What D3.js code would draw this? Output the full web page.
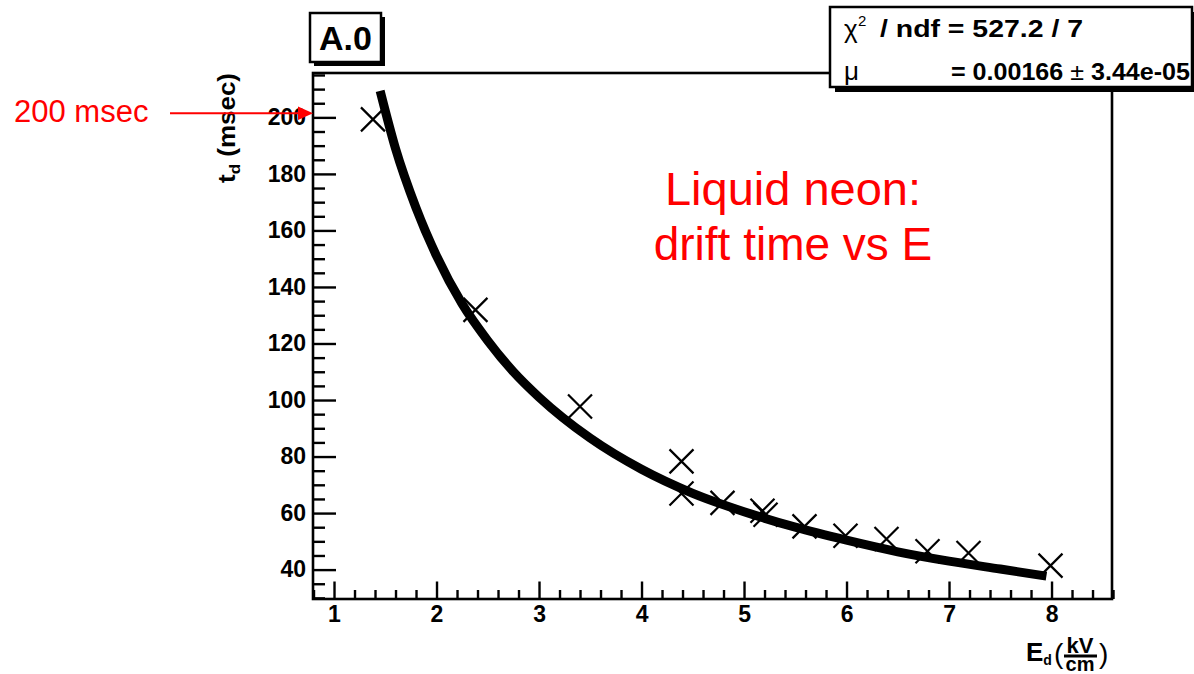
<!DOCTYPE html>
<html>
<head>
<meta charset="utf-8">
<script src="https://cdn.jsdelivr.net/npm/d3@7"></script>
<style>
  html, body { margin: 0; padding: 0; background: #fff; }
  svg { display: block; font-family: 'Liberation Sans', Arial, sans-serif; }
</style>
</head>
<body>
<div id="chart"></div>
<script>
'use strict';

// measured points (E in kV/cm, drift time in msec)
var fieldE = [1.38, 2.38, 3.40, 4.39, 4.39, 4.79, 5.18, 5.21, 5.59, 5.99, 6.39, 6.79, 7.19, 7.99];
var driftT = [199.3, 131.9, 97.7, 78.3, 66.9, 63.6, 60.8, 59.4, 55.3, 52.0, 50.8, 46.5, 45.9, 41.4];

// fit curve
var fitE = [1.45, 1.6, 1.8, 2.0, 2.25, 2.5, 2.75, 3.0, 3.5, 4.0, 4.5, 5.0, 5.5, 6.0, 6.5, 7.0, 7.5, 7.95];
var fitT = [209.4, 189, 168, 151, 134, 121, 110, 101, 86.5, 75.5, 67, 60.5, 55, 50.4, 46.3, 43, 40.2, 37.7];

var xMajor = [1, 2, 3, 4, 5, 6, 7, 8];
var yMajor = [40, 60, 80, 100, 120, 140, 160, 180, 200];

var W = 1194, H = 674;
var frame = {left: 313, right: 1112, top: 73, bottom: 599};

var svg = d3.select('#chart').append('svg')
    .attr('width', W)
    .attr('height', H);

var x = d3.scaleLinear().domain([0.795, 8.59]).range([frame.left, frame.right]);
var y = d3.scaleLinear().domain([29.6, 215.7]).range([frame.bottom, frame.top]);

// minor ticks, skipping the majors
var xMinor = d3.range(0.8, 8.61, 0.2).filter(function(v){
  return Math.abs(v - Math.round(v)) > 0.01;
});
var yMinor = d3.range(30, 216, 5).filter(function(v){ return v % 20 !== 0; });

// frame
svg.append('rect')
    .attr('x', frame.left)
    .attr('y', frame.top)
    .attr('width', frame.right - frame.left)
    .attr('height', frame.bottom - frame.top)
    .attr('fill', 'none')
    .attr('stroke', '#000')
    .attr('stroke-width', 2.6);

function styleAxis(g) {
  g.select('.domain').remove();
  g.selectAll('line').attr('stroke', '#000').attr('stroke-width', 2.4);
  g.selectAll('text')
      .attr('fill', '#000')
      .style('font-family', "'Liberation Sans', Arial, sans-serif")
      .style('font-weight', 'bold')
      .style('font-size', '23px');
}

svg.append('g')
    .attr('transform', 'translate(' + frame.left + ',0)')
    .call(d3.axisLeft(y).tickValues(yMinor).tickSize(-12).tickFormat(''))
    .call(styleAxis);
svg.append('g')
    .attr('transform', 'translate(' + frame.left + ',0)')
    .call(d3.axisLeft(y).tickValues(yMajor).tickSize(-23).tickPadding(7).tickFormat(d3.format('d')))
    .call(styleAxis);

svg.append('g')
    .attr('transform', 'translate(0,' + frame.bottom + ')')
    .call(d3.axisBottom(x).tickValues(xMinor).tickSize(-9).tickFormat(''))
    .call(styleAxis);
svg.append('g')
    .attr('transform', 'translate(0,' + frame.bottom + ')')
    .call(d3.axisBottom(x).tickValues(xMajor).tickSize(-17.5).tickPadding(7).tickFormat(d3.format('d')))
    .call(styleAxis);

// fit curve
var fitData = fitE.map(function(e, i){ return [e, fitT[i]]; });
svg.append('path')
    .datum(fitData)
    .attr('fill', 'none')
    .attr('stroke', '#000')
    .attr('stroke-width', 9)
    .attr('stroke-linecap', 'butt')
    .attr('d', d3.line()
        .x(function(d){ return x(d[0]); })
        .y(function(d){ return y(d[1]); })
        .curve(d3.curveMonotoneX));

// data points as crosses
var pts = fieldE.map(function(e, i){ return {e: e, t: driftT[i]}; });
var s = 12;
svg.append('g').selectAll('path')
    .data(pts)
  .enter().append('path')
    .attr('transform', function(d){ return 'translate(' + x(d.e) + ',' + y(d.t) + ')'; })
    .attr('d', 'M' + (-s) + ',' + (-s) + 'L' + s + ',' + s + 'M' + (-s) + ',' + s + 'L' + s + ',' + (-s))
    .attr('fill', 'none')
    .attr('stroke', '#000')
    .attr('stroke-width', 2.2);

// y axis title
var yt = svg.append('text')
    .attr('transform', 'translate(235,' + frame.top + ') rotate(-90)')
    .attr('text-anchor', 'end')
    .attr('textLength', 110)
    .attr('lengthAdjust', 'spacingAndGlyphs')
    .style('font-weight', 'bold')
    .style('font-size', '23px')
    .attr('fill', '#000');
yt.append('tspan').text('t');
yt.append('tspan').attr('dy', 5).style('font-size', '15px').text('d');
yt.append('tspan').attr('dy', -5).text(' (msec)');

// x axis title: E_d (kV/cm)
var xt = svg.append('g').attr('fill', '#000');
var et = xt.append('text').attr('x', 1026).attr('y', 661)
    .style('font-weight', 'bold').style('font-size', '26px');
et.append('tspan').text('E');
et.append('tspan').attr('dy', 4).style('font-size', '14px').text('d');
xt.append('text').attr('x', 1054).attr('y', 663)
    .style('font-size', '28px').text('(');
// fraction kept in one text element
var fr = xt.append('text').attr('text-anchor', 'middle').style('font-weight', 'bold');
fr.append('tspan').attr('x', 1080).attr('y', 653).style('font-size', '22px').text('kV');
fr.append('tspan').attr('x', 1080).attr('y', 671).style('font-size', '20px').text('cm');
xt.append('line').attr('x1', 1064).attr('x2', 1097).attr('y1', 656).attr('y2', 656)
    .attr('stroke', '#000').attr('stroke-width', 3);
xt.append('text').attr('x', 1099).attr('y', 663)
    .style('font-size', '28px').text(')');

// title box
svg.append('rect').attr('x', 314).attr('y', 17).attr('width', 71).attr('height', 49).attr('fill', '#000');
svg.append('rect').attr('x', 310).attr('y', 13).attr('width', 71).attr('height', 49)
    .attr('fill', '#fff').attr('stroke', '#000').attr('stroke-width', 2.5);
svg.append('text').attr('x', 345.5).attr('y', 50).attr('text-anchor', 'middle')
    .style('font-weight', 'bold').style('font-size', '34px').attr('fill', '#000').text('A.0');

// stats box
svg.append('rect').attr('x', 835).attr('y', 12).attr('width', 362).attr('height', 80).attr('fill', '#000');
svg.append('rect').attr('x', 830).attr('y', 7).attr('width', 362).attr('height', 80)
    .attr('fill', '#fff').attr('stroke', '#000').attr('stroke-width', 2.5);
svg.append('text').attr('x', 844).attr('y', 38).style('font-size', '26px').text('\u03c7');
svg.append('text').attr('x', 858).attr('y', 26).style('font-size', '15px').text('2');
svg.append('text').attr('x', 880).attr('y', 37)
    .attr('textLength', 203).attr('lengthAdjust', 'spacingAndGlyphs')
    .style('font-weight', 'bold').style('font-size', '24px').text('/ ndf = 527.2 / 7');
svg.append('text').attr('x', 844).attr('y', 80).style('font-size', '26px').text('\u03bc');
var l2 = svg.append('text').attr('x', 951).attr('y', 80)
    .attr('textLength', 239).attr('lengthAdjust', 'spacingAndGlyphs')
    .style('font-size', '23px');
l2.append('tspan').style('font-weight', 'bold').text('= 0.00166');
l2.append('tspan').text(' \u00b1 ');
l2.append('tspan').style('font-weight', 'bold').text('3.44e-05');

// red annotations
var red = '#ff0000';
svg.append('text').attr('x', 14).attr('y', 121.7)
    .style('font-size', '31px').attr('fill', red).text('200 msec');
svg.append('line').attr('x1', 170).attr('x2', 300).attr('y1', 113.3).attr('y2', 113.3)
    .attr('stroke', red).attr('stroke-width', 2);
svg.append('path').attr('d', 'M298,106.5L313,113.3L298,120Z').attr('fill', red);

svg.append('text').attr('x', 793).attr('y', 205).attr('text-anchor', 'middle')
    .style('font-size', '47px').attr('fill', red).text('Liquid neon:');
svg.append('text').attr('x', 793).attr('y', 260).attr('text-anchor', 'middle')
    .style('font-size', '46px').attr('fill', red).text('drift time vs E');
</script>
</body>
</html>
